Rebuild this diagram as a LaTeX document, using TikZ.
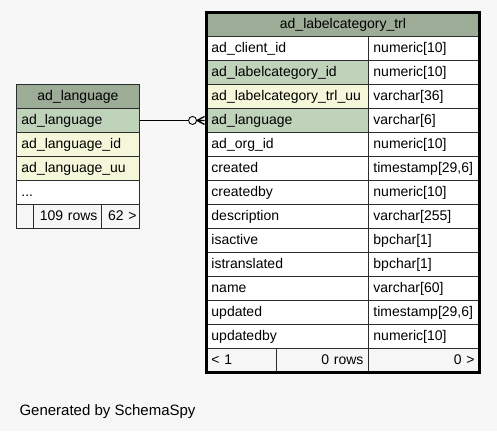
\documentclass[tikz,border=0pt]{standalone}
\usepackage{fontspec}
\setmainfont{Liberation Sans}
\usetikzlibrary{positioning,calc}
\definecolor{pagebg}{RGB}{247,247,247}
\definecolor{hdrgreen}{RGB}{157,172,151}
\definecolor{pkgreen}{RGB}{191,210,186}
\definecolor{idxyellow}{RGB}{244,247,218}
\definecolor{footgrey}{RGB}{246,246,246}
\definecolor{gridline}{RGB}{45,45,45}
\newcommand{\tabfont}{\fontsize{14}{16}\selectfont}

\begin{document}
\begin{tikzpicture}[x=1pt,y=-1pt,
  cell/.style={draw=gridline,line width=0.9pt,fill=white,anchor=north west,
    minimum height=24pt,inner ysep=0pt,inner xsep=5pt,font=\tabfont,
    text height=11pt,text depth=2pt},
  hdrcell/.style={cell,fill=hdrgreen,align=center},
  lcol/.style={cell,text width=#1,align=left},
  rcol/.style={cell,text width=#1,align=right},
  footcell/.style={rcol=#1,fill=footgrey}]
  \useasboundingbox[fill=pagebg] (0,0) rectangle (497,431);

  % ad_labelcategory_trl
  \node[hdrcell,text width=263pt] (trl-hd) at (206,12) {ad\_labelcategory\_trl};
  \foreach \fld/\typ/\fc [count=\i from 0] in {
      ad\_client\_id/numeric[10]/white,
      ad\_labelcategory\_id/numeric[10]/pkgreen,
      ad\_labelcategory\_trl\_uu/varchar[36]/idxyellow,
      ad\_language/varchar[6]/pkgreen,
      ad\_org\_id/numeric[10]/white,
      created/{timestamp[29,6]}/white,
      createdby/numeric[10]/white,
      description/varchar[255]/white,
      isactive/bpchar[1]/white,
      istranslated/bpchar[1]/white,
      name/varchar[60]/white,
      updated/{timestamp[29,6]}/white,
      updatedby/numeric[10]/white}{
    \node[lcol=152pt,fill=\fc] (trl-f\i) at (206,{36+24*\i}) {\fld};
    \node[lcol=101pt] (trl-t\i) at (368,{36+24*\i}) {\typ};
  }
  \node[footcell=60pt,align=left] (trl-ft1) at (206,348) {< 1};
  \node[footcell=82pt] (trl-ft2) at (276,348) {0 rows};
  \node[footcell=101pt] (trl-ft3) at (368,348) {0 >};
  \draw[line width=3pt] (trl-hd.north west) rectangle (trl-ft3.south east);

  % ad_language
  \node[hdrcell,text width=113pt] (lang-hd) at (16,84) {ad\_language};
  \foreach \fld/\fc [count=\i from 0] in {
      ad\_language/pkgreen,
      ad\_language\_id/idxyellow,
      ad\_language\_uu/idxyellow,
      .{}.{}./white}{
    \node[lcol=113pt,fill=\fc] (lang-f\i) at (16,{108+24*\i}) {\fld};
  }
  \node[footcell=7pt] (lang-ft1) at (16,204) {};
  \node[footcell=60pt,inner xsep=4pt] (lang-ft2) at (33,204) {109 rows};
  \node[footcell=32pt,inner xsep=3pt] (lang-ft3) at (101,204) {62 >};

  % relationship
  \coordinate (crow) at ($(trl-f3.west)+(-9,0)$);
  \node[draw,circle,fill=pagebg,minimum size=8pt,inner sep=0pt,line width=0.9pt,
    left=0pt of crow] (ring) {};
  \draw[line width=0.9pt] (lang-f0.east) -- (ring.west);
  \draw[line width=1.3pt] (crow) -- ($(trl-f3.west)+(-1.5,-4)$)
    (crow) -- ($(trl-f3.west)+(-1.5,0)$)
    (crow) -- ($(trl-f3.west)+(-1.5,4)$);

  \node[anchor=base west,font=\fontsize{15}{17}\selectfont] (credit) at (16,415)
    {Generated by SchemaSpy};
\end{tikzpicture}
\end{document}
